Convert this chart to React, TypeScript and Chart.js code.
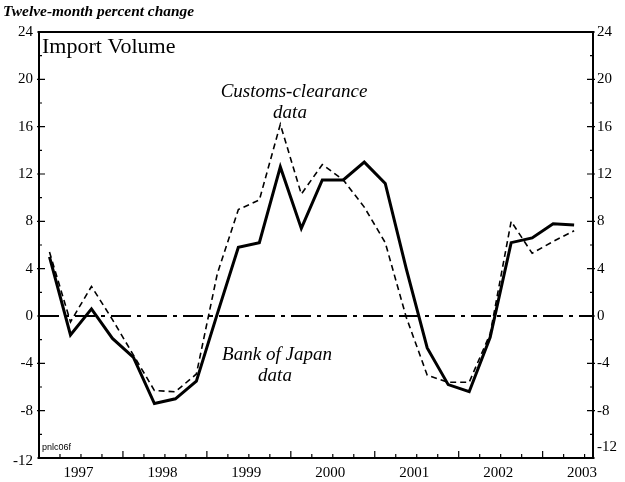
import React, { useEffect, useRef } from "react";
import { Chart, registerables } from "chart.js";

Chart.register(...registerables);

const quarters = [
  "1997Q1", "1997Q2", "1997Q3", "1997Q4",
  "1998Q1", "1998Q2", "1998Q3", "1998Q4",
  "1999Q1", "1999Q2", "1999Q3", "1999Q4",
  "2000Q1", "2000Q2", "2000Q3", "2000Q4",
  "2001Q1", "2001Q2", "2001Q3", "2001Q4",
  "2002Q1", "2002Q2", "2002Q3", "2002Q4",
  "2003Q1", "2003Q2",
];

const bankOfJapan = [
  5.0, -1.6, 0.6, -1.9, -3.5, -7.4, -7.0, -5.5,
  0.2, 5.8, 6.2, 12.6, 7.4, 11.5, 11.5, 13.0,
  11.2, 4.0, -2.7, -5.8, -6.4, -1.8, 6.2, 6.6,
  7.8, 7.7,
];

const customsClearance = [
  5.4, -0.5, 2.5, -0.3, -3.3, -6.3, -6.4, -4.9,
  3.6, 9.0, 9.8, 16.2, 10.3, 12.8, 11.5, 9.2,
  6.2, -0.1, -5.0, -5.6, -5.6, -1.5, 8.0, 5.3,
  6.3, 7.2,
];

const yTickValues = [-12, -8, -4, 0, 4, 8, 12, 16, 20, 24];
const yearLabels = ["1997", "1998", "1999", "2000", "2001", "2002", "2003"];

const BASE_YEAR = 1997;
const X_MAX = 6.6;

function quarterToX(q: string): number {
  const year = parseInt(q.slice(0, 4), 10);
  const qq = parseInt(q.slice(5), 10);
  return year - BASE_YEAR + (qq - 0.5) / 4;
}

const SERIF = "'Liberation Serif', 'Times New Roman', serif";

const decorPlugin = {
  id: "decor",
  beforeDraw(chart: any) {
    const { ctx, width, height } = chart;
    ctx.save();
    ctx.fillStyle = "#ffffff";
    ctx.fillRect(0, 0, width, height);
    ctx.restore();
  },
  beforeDatasetsDraw(chart: any) {
    const { ctx, chartArea, scales } = chart;
    const y0 = scales.y.getPixelForValue(0);
    ctx.save();
    ctx.strokeStyle = "#000";
    ctx.lineWidth = 2;
    ctx.setLineDash([20, 6, 4, 6]);
    ctx.beginPath();
    ctx.moveTo(chartArea.left, y0);
    ctx.lineTo(chartArea.right, y0);
    ctx.stroke();
    ctx.restore();
  },
  afterDatasetsDraw(chart: any) {
    const { ctx, chartArea, scales } = chart;
    const { left, right, top, bottom } = chartArea;
    const xs = scales.x;
    const ys = scales.y;
    ctx.save();
    ctx.strokeStyle = "#000";
    ctx.fillStyle = "#000";
    ctx.setLineDash([]);

    // frame
    ctx.lineWidth = 2;
    ctx.strokeRect(left, top, right - left, bottom - top);

    // x ticks (quarters, years major)
    ctx.lineWidth = 1.2;
    for (let q = 1; q / 4 < X_MAX; q++) {
      const v = q / 4;
      const px = xs.getPixelForValue(v);
      const len = q % 4 === 0 ? 7 : 4;
      ctx.beginPath();
      ctx.moveTo(px, bottom);
      ctx.lineTo(px, bottom - len);
      ctx.stroke();
    }

    // y ticks
    for (let v = -12; v <= 24; v += 2) {
      const py = ys.getPixelForValue(v);
      const major = v % 4 === 0;
      const len = major ? 6 : 3;
      ctx.beginPath();
      ctx.moveTo(left - (major ? 2 : 0), py);
      ctx.lineTo(left + len, py);
      ctx.moveTo(right + (major ? 2 : 0), py);
      ctx.lineTo(right - len, py);
      ctx.stroke();
    }

    // y labels
    ctx.font = `15px ${SERIF}`;
    ctx.textBaseline = "middle";
    yTickValues.forEach((v) => {
      const py = ys.getPixelForValue(v);
      ctx.textAlign = "right";
      ctx.fillText(String(v), left - 6, py + (v === -12 ? 3 : 0));
      ctx.textAlign = "left";
      ctx.fillText(String(v), right + 4, py + (v === -12 ? -11 : 0));
    });

    // x labels
    ctx.textAlign = "center";
    yearLabels.forEach((lab) => {
      const v = parseInt(lab, 10) - BASE_YEAR + 0.47;
      ctx.fillText(lab, xs.getPixelForValue(v), bottom + 15);
    });

    // title
    ctx.textAlign = "left";
    ctx.font = `22px ${SERIF}`;
    ctx.fillText("Import Volume", left + 3, top + 15);

    // header (slightly widened like the scanned original)
    ctx.save();
    ctx.font = `italic bold 14px ${SERIF}`;
    ctx.translate(3, 12);
    ctx.scale(1.1, 1);
    ctx.fillText("Twelve-month percent change", 0, 0);
    ctx.restore();

    // annotations
    ctx.font = `italic 19px ${SERIF}`;
    ctx.textAlign = "center";
    ctx.fillText("Customs-clearance", 294, 92);
    ctx.fillText("data", 290, 113);
    ctx.fillText("Bank of Japan", 277, 355);
    ctx.fillText("data", 275, 376);

    // code
    ctx.textAlign = "left";
    ctx.font = "9px 'Liberation Sans', Arial, sans-serif";
    ctx.fillText("pnlc06f", left + 3, bottom - 10);

    ctx.restore();
  },
};

export default function App() {
  const canvasRef = useRef<HTMLCanvasElement | null>(null);

  useEffect(() => {
    document.body.style.margin = "0";
    const canvas = canvasRef.current;
    if (!canvas) return;
    const chart = new Chart(canvas, {
      type: "line",
      data: {
        datasets: [
          {
            label: "Customs-clearance data",
            data: quarters.map((q, i) => ({ x: quarterToX(q), y: customsClearance[i] })),
            borderColor: "#000",
            borderWidth: 1.6,
            borderDash: [6, 4],
            pointRadius: 0,
            tension: 0,
            fill: false,
          },
          {
            label: "Bank of Japan data",
            data: quarters.map((q, i) => ({ x: quarterToX(q), y: bankOfJapan[i] })),
            borderColor: "#000",
            borderWidth: 3,
            pointRadius: 0,
            tension: 0,
            fill: false,
          },
        ],
      },
      options: {
        responsive: false,
        animation: false,
        layout: { padding: { left: 39, right: 32, top: 32, bottom: 24 } },
        plugins: {
          legend: { display: false },
          tooltip: { enabled: false },
        },
        scales: {
          x: { type: "linear", min: 0, max: X_MAX, display: false },
          y: { type: "linear", min: -12, max: 24, display: false },
        },
      },
      plugins: [decorPlugin],
    });
    return () => chart.destroy();
  }, []);

  return (
    <div style={{ width: 625, height: 482, background: "#fff" }}>
      <canvas ref={canvasRef} width={625} height={482} style={{ display: "block" }} />
    </div>
  );
}
